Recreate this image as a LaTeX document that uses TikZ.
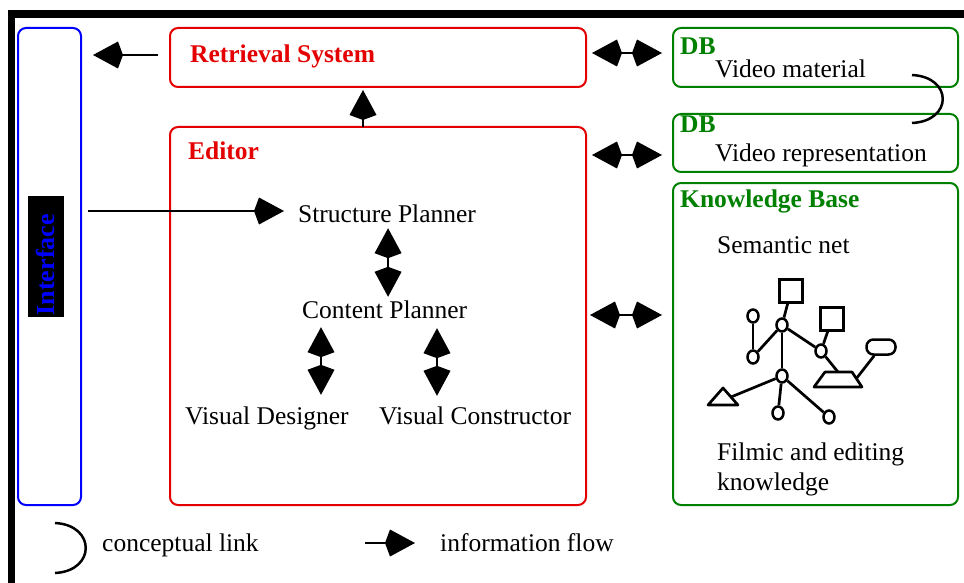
\documentclass[tikz,border=0pt]{standalone}
\usepackage{fontspec}
\setmainfont{Liberation Serif}
\usetikzlibrary{arrows.meta,shapes.geometric,calc}
\definecolor{dred}{RGB}{228,0,0}
\definecolor{dgreen}{RGB}{0,128,0}
\begin{document}
\begin{tikzpicture}[x=1pt,y=-1pt,
  box/.style={draw, line width=2pt, rounded corners=8pt, inner sep=0pt, outer sep=0pt, anchor=north west},
  head/.style={font=\fontsize{25.5}{28}\selectfont\bfseries, inner sep=0pt, anchor=base west},
  txt/.style={font=\fontsize{25.5}{28}\selectfont, inner sep=0pt, anchor=base west, text height=22pt, text depth=0pt},
  fl/.tip={Kite[length=30pt,width=27pt,inset=5pt]},
  flow/.style={-fl, line width=2.5pt},
  biflow/.style={fl-fl, line width=2.5pt},
  snode/.style={ellipse, draw, line width=2.5pt, minimum width=11pt, minimum height=13pt, inner sep=0pt},
  ssq/.style={rectangle, draw, line width=2.3pt, minimum size=23pt, inner sep=0pt},
  sedge/.style={line width=2.7pt},
  clink/.style={line width=2.5pt}
]
\useasboundingbox (0,0) rectangle (964,583);
\fill[white] (0,0) rectangle (964,583);
% frame
\fill[black] (8,10) rectangle (964,18);
\fill[black] (8,10) rectangle (15,583);

% boxes
\node[box, draw=blue, minimum width=63pt, minimum height=477pt] (iface) at (18,28) {};
\node[box, draw=dred, minimum width=416pt, minimum height=59pt] (ret) at (170,28) {};
\node[box, draw=dred, minimum width=416pt, minimum height=378pt] (ed) at (170,127) {};
\node[box, draw=dgreen, minimum width=285pt, minimum height=59pt] (db1) at (673,28) {};
\node[box, draw=dgreen, minimum width=285pt, minimum height=58pt] (db2) at (673,114) {};
\node[box, draw=dgreen, minimum width=285pt, minimum height=322pt] (kb) at (673,183) {};

% interface label
\node[fill=black, minimum width=36pt, minimum height=121pt, inner sep=0pt, anchor=north west] (ilab) at (28,196) {};
\node[rotate=90, text=blue, font=\fontsize{26}{28}\selectfont\bfseries, inner sep=0pt] (itxt) at ($(ilab.center)+(-1,8)$) {Interface};

% headings and texts
\node[head, text=dred] (rett) at (190,63) {Retrieval System};
\node[head, text=dred] (edt) at (188,160) {Editor};
\node[head, text=dgreen] (db1t) at (680,55) {DB};
\node[txt] (vm) at (715,78) {Video material};
\node[head, text=dgreen] (db2t) at (680,133) {DB};
\node[txt] (vr) at (715,162) {Video representation};
\node[head, text=dgreen] (kbt) at (680,207) {Knowledge Base};
\node[txt] (sn) at (717,253) {Semantic net};
\node[txt] (fk1) at (717,460) {Filmic and editing};
\node[txt] (fk2) at (717,490) {knowledge};

\node[txt] (sp) at (298,222) {Structure Planner};
\node[txt] (cp) at (302,318) {Content Planner};
\node[txt] (vd) at (185,424) {Visual Designer};
\node[txt] (vc) at (379,424) {Visual Constructor};

% information flow arrows
\draw[flow] ($(ret.west)+(-12,-2.5)$) -- ($(iface.east |- ret.west)+(12,-2.5)$);
\draw[biflow] ($(ret.east)+(6,-4.5)$) -- ($(db1.west)+(-11,-4.5)$);
\draw[biflow] ($(ret.east |- db2.west)+(6,12)$) -- ($(db2.west)+(-11,12)$);
\draw[biflow] ($(ed.east)+(4,-1)$) -- ($(kb.west |- ed.east)+(-11,-1)$);
\draw[flow] ($(ed.north)+(-15,0)$) -- ($(ret.south)+(-15,3)$);
\draw[flow] ($(iface.east |- sp.west)+(7,0)$) -- ($(sp.west)+(-14,0)$);
\draw[biflow] ($(sp.south)+(1,6)$) -- ($(sp.south |- cp.north)+(1,1)$);
\draw[biflow] ($(cp.south west)+(19,9)$) -- ($(cp.south west |- vd.north)+(19,-7)$);
\draw[biflow] ($(cp.south west)+(135,10)$) -- ($(cp.south west |- vc.north)+(135,-6)$);

% conceptual link between databases
\coordinate (cl1) at (912,75);
\coordinate (cl2) at (912,123);
\draw[clink] (cl1) .. controls (953,77) and (953,121) .. (cl2);

% semantic net
\node[ssq] (sq1) at (791,291) {};
\node[ssq] (sq2) at (832,319) {};
\node[snode] (A) at (782,325) {};
\node[snode] (B) at (753,316) {};
\node[snode] (C) at (753,357) {};
\node[snode] (D) at (821,351) {};
\node[snode] (E) at (782,376) {};
\node[snode] (F) at (778,413) {};
\node[snode] (G) at (829,417) {};
\node[draw, line width=2.5pt, rounded corners=7pt, minimum width=29pt, minimum height=15pt, inner sep=0pt] (pill) at (881,347) {};
\draw[sedge, line join=round] (814,387) -- (825,372) -- (852,372) -- (862,387) -- cycle;
\coordinate (traptop) at (838,372);
\coordinate (trapr) at (856,379);
\draw[sedge, line join=round] (708,405) -- (723,388) -- (738,405) -- cycle;
\coordinate (trir) at (731,397);

\draw[sedge] (sq1) -- (A);
\draw[sedge] (B) -- (C);
\draw[sedge] (C) -- (A);
\draw[sedge] (A) -- (E);
\draw[sedge] (A) -- (D);
\draw[sedge] (D) -- (sq2);
\draw[sedge] (D) -- (traptop);
\draw[sedge] (trapr) -- (pill);
\draw[sedge] (E) -- (trir);
\draw[sedge] (E) -- (F);
\draw[sedge] (E) -- (G);

% legend
\coordinate (lc1) at (55,523);
\coordinate (lc2) at (55,573);
\draw[clink] (lc1) .. controls (96,525) and (96,571) .. (lc2);
\node[txt] (lct) at (102,551) {conceptual link};
\coordinate (la1) at (365,543);
\coordinate (la2) at (415,543);
\draw[flow] (la1) -- (la2);
\node[txt] (lat) at (440,551) {information flow};
\end{tikzpicture}
\end{document}
